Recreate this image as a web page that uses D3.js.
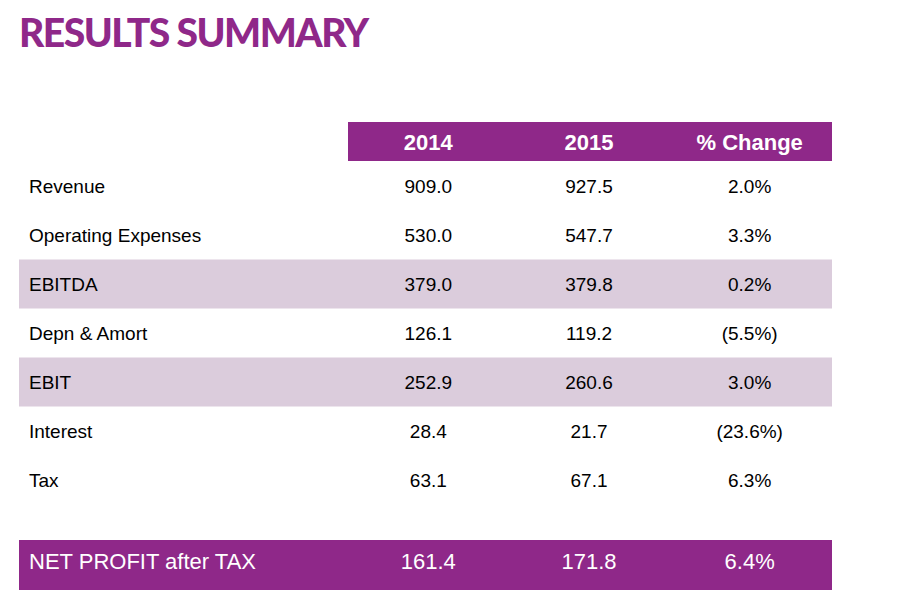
<!DOCTYPE html>
<html><head><meta charset="utf-8">
<script src="https://cdn.jsdelivr.net/npm/d3@7"></script>
<style>body{margin:0;background:#fff}</style>
</head><body>
<script>
const columns = ["2014", "2015", "% Change"];
const rows = ["Revenue", "Operating Expenses", "EBITDA", "Depn & Amort", "EBIT", "Interest", "Tax"];
const v2014 = ["909.0", "530.0", "379.0", "126.1", "252.9", "28.4", "63.1"];
const v2015 = ["927.5", "547.7", "379.8", "119.2", "260.6", "21.7", "67.1"];
const change = ["2.0%", "3.3%", "0.2%", "(5.5%)", "3.0%", "(23.6%)", "6.3%"];
const shaded = ["EBITDA", "EBIT"];
const total = ["NET PROFIT after TAX", "161.4", "171.8", "6.4%"];

const w = 910, h = 609;
const purple = "#8f2889", light = "#dbccdc";

const svg = d3.select("body").append("svg").attr("width", w).attr("height", h)
  .style("font-family", "Liberation Sans, Arial, sans-serif");

svg.append("text").text("RESULTS SUMMARY")
  .attr("x", 19).attr("y", 47)
  .attr("fill", purple).attr("font-family", "Lato").attr("font-weight", 900)
  .attr("font-size", 39).attr("letter-spacing", -1.5);

const x = d3.scaleBand().domain(columns).range([348, 830]);
const y = d3.scaleBand().domain(rows).range([161, 504]);

// header
svg.append("rect").attr("x", 348).attr("y", 122).attr("width", 484).attr("height", 39).attr("fill", purple);
svg.selectAll(".hd").data(columns).enter().append("text")
  .attr("x", d => x(d) + x.bandwidth() / 2).attr("y", 150)
  .attr("text-anchor", "middle").attr("fill", "#fff")
  .attr("font-weight", "bold").attr("font-size", 22).text(d => d);

// shaded rows
svg.selectAll(".band").data(shaded).enter().append("rect")
  .attr("x", 19).attr("y", d => y(d) + 0.5).attr("width", 813).attr("height", y.bandwidth())
  .attr("fill", light);

const g = svg.selectAll(".row").data(rows).enter().append("g")
  .attr("transform", d => `translate(0,${y(d) + y.bandwidth() / 2 + 7})`);
g.append("text").attr("x", 29).attr("font-size", 19).text(d => d);
[v2014, v2015, change].forEach((arr, j) => {
  g.append("text").attr("x", x(columns[j]) + x.bandwidth() / 2)
    .attr("text-anchor", "middle").attr("font-size", 19).text((d, i) => arr[i]);
});

// total row
svg.append("rect").attr("x", 19).attr("y", 540).attr("width", 813).attr("height", 50).attr("fill", purple);
svg.selectAll(".tot").data(total).enter().append("text")
  .attr("x", (d, i) => i === 0 ? 29 : x(columns[i - 1]) + x.bandwidth() / 2)
  .attr("y", 569).attr("text-anchor", (d, i) => i === 0 ? "start" : "middle")
  .attr("fill", "#fff").attr("font-size", 22).text(d => d);
</script>
</body></html>
